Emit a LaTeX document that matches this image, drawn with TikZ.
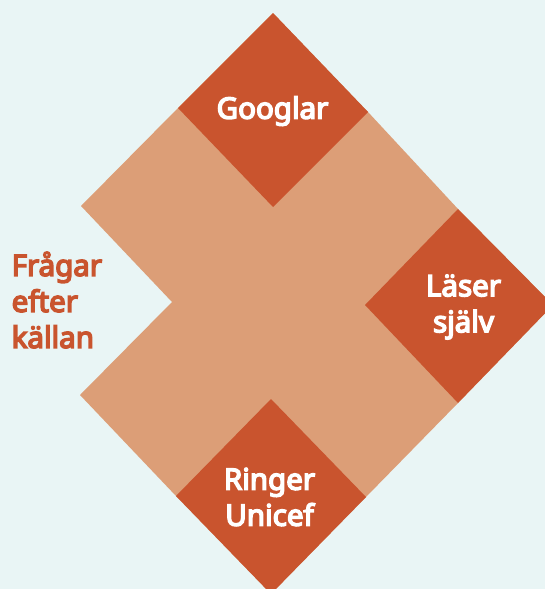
\documentclass[tikz,border=0pt]{standalone}
\usepackage{fontspec}
\setmainfont{Noto Sans}[AutoFakeBold=5]
\definecolor{bgc}{RGB}{233,245,245}
\definecolor{tanc}{RGB}{220,158,119}
\definecolor{darkc}{RGB}{201,84,46}
\begin{document}
\begin{tikzpicture}[x=1pt,y=-1pt,
  lbl/.style={font=\fontsize{29.5}{36}\selectfont\bfseries, inner sep=0pt, align=center, text=white},
  sidelbl/.style={font=\fontsize{29.5}{36}\selectfont\bfseries, inner sep=0pt, align=left, text=darkc}]
\useasboundingbox (0,0) rectangle (545,589);
\fill[bgc] (0,0) rectangle (545,589);
\begin{scope}
\clip (0,0) rectangle (545,589);
\fill[tanc] (273,13) -- (368,112) -- (458,209) -- (553,305) -- (458,403) -- (366,497) -- (271,594) -- (176,496) -- (80,395) -- (172,302) -- (81,206) -- (178,108) -- cycle;
\fill[darkc] (273,13) -- (368,112) -- (273,207) -- (178,108) -- cycle;
\fill[darkc] (458,209) -- (553,305) -- (458,403) -- (365,305) -- cycle;
\fill[darkc] (271,399) -- (366,497) -- (271,594) -- (176,496) -- cycle;
\end{scope}
\node[lbl, anchor=base] (g) at (272.5,118.7) {Googlar};
\node[lbl] (l) at (463.5,307) {Läser\\själv};
\node[lbl] (r) at (269.5,497) {Ringer\\Unicef};
\node[sidelbl, anchor=west] (f) at (11.5,300) {Frågar\\efter\\källan};
\end{tikzpicture}
\end{document}
